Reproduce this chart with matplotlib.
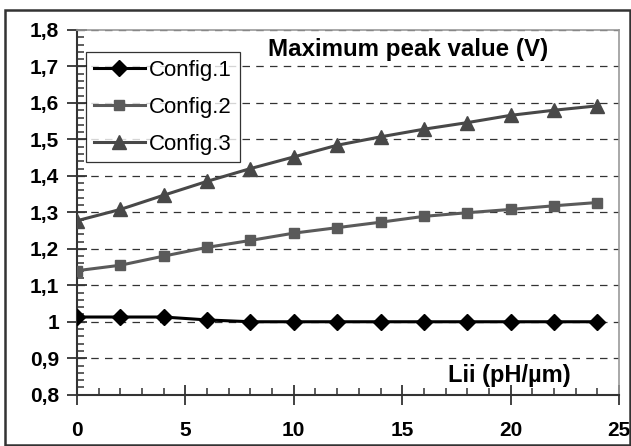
import matplotlib
matplotlib.use("Agg")
import matplotlib.pyplot as plt
from matplotlib.patches import Rectangle
from matplotlib.ticker import MultipleLocator, FuncFormatter

plt.rcParams['font.family'] = ['Liberation Sans', 'DejaVu Sans']

lii = [0, 2, 4, 6, 8, 10, 12, 14, 16, 18, 20, 22, 24]
config1 = [1.013, 1.013, 1.013, 1.005, 1.0, 1.0, 1.0, 1.0, 1.0, 1.0, 1.0, 1.0, 1.0]
config2 = [1.140, 1.155, 1.180, 1.204, 1.223, 1.243, 1.258, 1.273, 1.289, 1.299, 1.308, 1.318, 1.327]
config3 = [1.277, 1.308, 1.347, 1.385, 1.420, 1.452, 1.484, 1.507, 1.528, 1.546, 1.566, 1.580, 1.592]
labels = ["Config.1", "Config.2", "Config.3"]

fig = plt.figure(figsize=(6.31, 4.46), dpi=100)
ax = fig.add_axes([77 / 631, 1 - 394.7 / 446, (619 - 77) / 631, (394.7 - 30) / 446])

# outer frame of the chart
fig.patches.append(Rectangle((5 / 631, 1 / 446), 625 / 631, 435 / 446,
                             transform=fig.transFigure, fill=False,
                             edgecolor="#333333", linewidth=1.8))

ax.plot(lii, config1, color="black", lw=2.2, marker="D", ms=8, label=labels[0], zorder=5)
ax.plot(lii, config2, color="#5a5a5a", lw=2.2, marker="s", ms=7.5, label=labels[1], zorder=4)
ax.plot(lii, config3, color="#484848", lw=2.2, marker="^", ms=9.5, label=labels[2], zorder=4)

ax.set_xlim(0, 25)
ax.set_ylim(0.8, 1.8)
ax.xaxis.set_major_locator(MultipleLocator(5))
ax.xaxis.set_minor_locator(MultipleLocator(1))
ax.yaxis.set_major_locator(MultipleLocator(0.1))
ax.yaxis.set_minor_locator(MultipleLocator(0.02))

fmt = FuncFormatter(lambda v, p: ("%g" % round(v, 2)).replace(".", ","))
ax.yaxis.set_major_formatter(fmt)

ax.grid(axis="y", which="major", linestyle=(0, (6, 5)), color="#333333", lw=0.9)
ax.set_axisbelow(True)

for s in ["top", "right"]:
    ax.spines[s].set_color("#999999")
    ax.spines[s].set_linewidth(1.2)
for s in ["left", "bottom"]:
    ax.spines[s].set_color("#333333")
    ax.spines[s].set_linewidth(1.5)

ax.tick_params(axis="both", which="major", direction="inout", length=14, width=1.3,
               color="#333333", labelsize=15)
ax.tick_params(axis="both", which="minor", direction="in", length=5, width=1.1,
               color="#333333")
ax.tick_params(axis="x", which="major", pad=12)
ax.tick_params(axis="y", which="major", pad=6)
for t in ax.get_xticklabels() + ax.get_yticklabels():
    t.set_fontweight("bold")

ax.text(0.352, 0.929, "Maximum peak value (V)", transform=ax.transAxes,
        fontsize=17.4, fontweight="bold", ha="left", va="baseline")
ax.text(0.684, 0.035, "Lii (pH/µm)", transform=ax.transAxes,
        fontsize=17, fontweight="bold", ha="left", va="baseline")

leg = ax.legend(loc="upper left", bbox_to_anchor=(0.0166, 0.94), fontsize=16,
                frameon=True, fancybox=False, handlelength=2.3, borderpad=0.35,
                labelspacing=0.72, handletextpad=0.2, borderaxespad=0)
leg.get_frame().set_edgecolor("black")
leg.get_frame().set_linewidth(0.9)

fig.savefig("out.png", dpi=100)
